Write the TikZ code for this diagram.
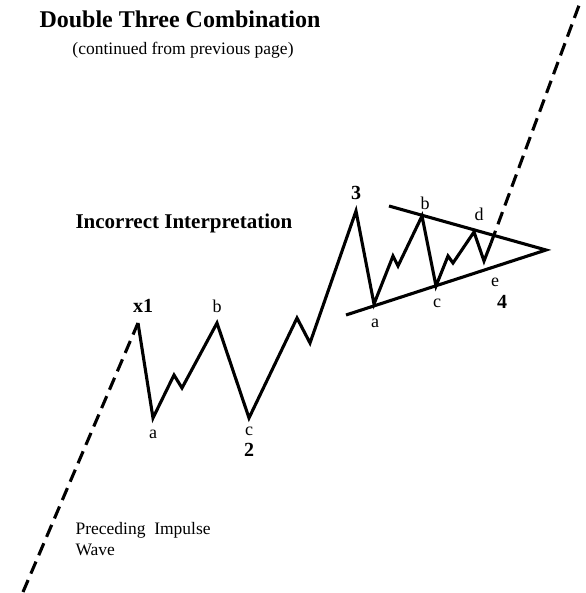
\documentclass[tikz,border=0pt]{standalone}
\usepackage{fontspec}
\setmainfont{Liberation Serif}
\begin{document}
\begin{tikzpicture}[x=1pt,y=-1pt,
  wave/.style={line width=3.1pt},
  dashwave/.style={line width=3.1pt,dash pattern=on 13pt off 7pt},
  trend/.style={line width=3.1pt},
  title/.style={font=\bfseries\fontsize{24}{26}\selectfont,anchor=base},
  sub/.style={font=\fontsize{17.5}{20}\selectfont,anchor=base},
  head/.style={font=\bfseries\fontsize{21}{24}\selectfont,anchor=base west},
  num/.style={font=\bfseries\fontsize{20}{22}\selectfont,anchor=base},
  lab/.style={font=\fontsize{18}{20}\selectfont,anchor=base},
  note/.style={font=\fontsize{17.5}{21}\selectfont,anchor=base west,align=left}]
\useasboundingbox (0,0) rectangle (585,593);
% vertices
\coordinate (start) at (23,592);
\coordinate (x1) at (138,323);
\coordinate (a1) at (153,418);
\coordinate (p1) at (174,375);
\coordinate (t1) at (182,388);
\coordinate (b1) at (217,323);
\coordinate (c1) at (249,418);
\coordinate (p2) at (297,318);
\coordinate (t2) at (310,343);
\coordinate (w3) at (356,211);
\coordinate (a2) at (374,304);
\coordinate (p3) at (393,256);
\coordinate (t3) at (398,266);
\coordinate (b2) at (422,216);
\coordinate (c2) at (436,286);
\coordinate (p4) at (448,256);
\coordinate (t4) at (453,263);
\coordinate (d2) at (474,232);
\coordinate (e2) at (484,261);
\coordinate (brk) at (491,243);
\coordinate (top) at (581,0);
\coordinate (up0) at (389,206);
\coordinate (lo0) at (346,315);
\coordinate (apex) at (546,250);
% lines
\draw[dashwave] (start) -- (x1);
\draw[wave] (x1) -- (a1) -- (p1) -- (t1) -- (b1) -- (c1) -- (p2) -- (t2) -- (w3)
  -- (a2) -- (p3) -- (t3) -- (b2) -- (c2) -- (p4) -- (t4) -- (d2) -- (e2) -- (brk);
\draw[dashwave] (brk) -- (top);
\draw[trend] (up0) -- (apex) -- (lo0);
% texts
\node[title] (ttl) at (180,28) {Double Three Combination};
\node[sub] (st) at (183,55) {(continued from previous page)};
\node[head] (hd) at (72,229) {Incorrect Interpretation};
\node[num] (lx1) at (143,312) {x1};
\node[lab] (la1) at (153,438) {a};
\node[lab] (lb1) at (217,312) {b};
\node[lab] (lc1) at (249,435) {c};
\node[num] (l2) at (249,456) {2};
\node[num] (l3) at (356,200) {3};
\node[lab] (la2) at (375,327) {a};
\node[lab] (lb2) at (425,210) {b};
\node[lab] (lc2) at (437,307) {c};
\node[lab] (ld2) at (479,221) {d};
\node[lab] (le2) at (495,286) {e};
\node[num] (l4) at (502,308) {4};
\node[note] (pre) at (72,555) {Preceding\ \ Impulse\\Wave};
\end{tikzpicture}
\end{document}
